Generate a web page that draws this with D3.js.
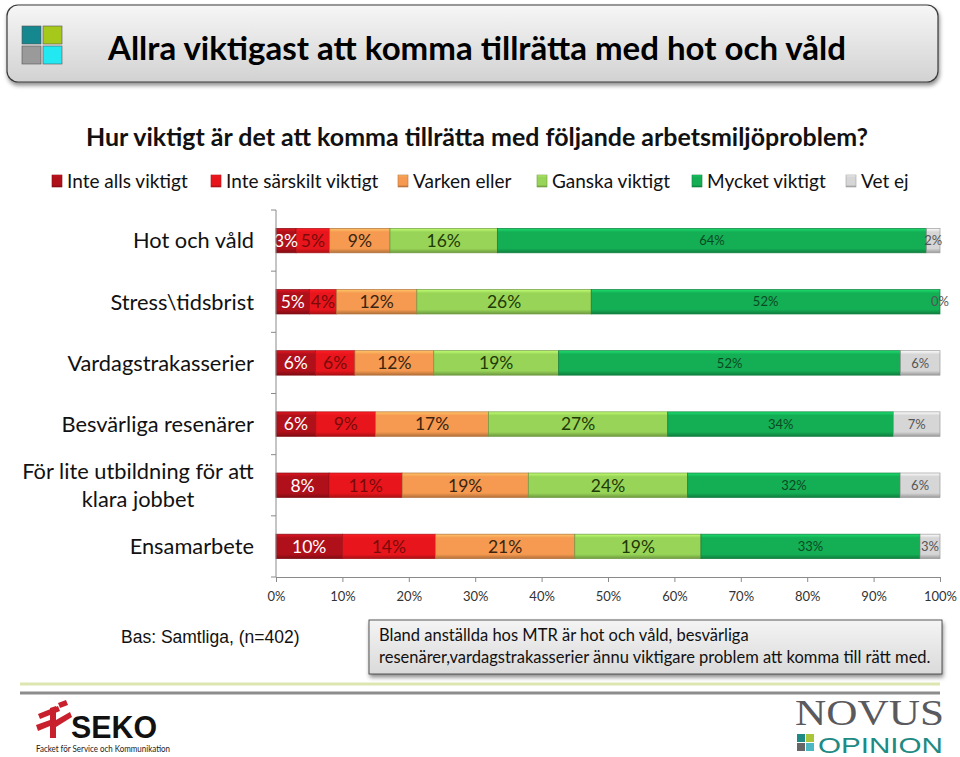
<!DOCTYPE html>
<html>
<head>
<meta charset="utf-8">
<script src="https://cdn.jsdelivr.net/npm/d3@7/dist/d3.min.js"></script>
<style>
  html, body { margin: 0; padding: 0; background: #fff; }
  svg { display: block; }
</style>
</head>
<body>
<svg id="chart" width="960" height="757"></svg>
<script>
// ---------- DATA ----------
const categories = [
  "Hot och våld",
  "Stress\\tidsbrist",
  "Vardagstrakasserier",
  "Besvärliga resenärer",
  "För lite utbildning för att|klara jobbet",
  "Ensamarbete"
];
const seriesNames = ["Inte alls viktigt", "Inte särskilt viktigt", "Varken eller", "Ganska viktigt", "Mycket viktigt", "Vet ej"];
const inteAlls     = [3, 5, 6, 6, 8, 10];
const inteSarskilt = [5, 4, 6, 9, 11, 14];
const varkenEller  = [9, 12, 12, 17, 19, 21];
const ganska       = [16, 26, 19, 27, 24, 19];
const mycket       = [64, 52, 52, 34, 32, 33];
const vetEj        = [2, 0, 6, 7, 6, 3];
const tickLabels = ["0%","10%","20%","30%","40%","50%","60%","70%","80%","90%","100%"];
const tickValues = [0,0.1,0.2,0.3,0.4,0.5,0.6,0.7,0.8,0.9,1];

const titleText = "Allra viktigast att komma tillrätta med hot och våld";
const questionText = "Hur viktigt är det att komma tillrätta med följande arbetsmiljöproblem?";
const baseText = "Bas: Samtliga, (n=402)";
const noteLines = ["Bland anställda hos MTR är hot och våld, besvärliga", "resenärer,vardagstrakasserier ännu viktigare problem att komma till rätt med."];

// ---------- STYLE ----------
const colors = ["#B0101A", "#E8161C", "#F59A50", "#98D458", "#14AE55", "#D6D6D6"];
const labelColors = ["#ffffff", "#7A0A0A", "#3A2410", "#1E3A06", "#0A4A22", "#555555"];
const labelSizes = [17.5, 17.5, 17.5, 17.5, 13, 13];
const FONT = "Lato, 'Open Sans', sans-serif";

const svg = d3.select("#chart");
const defs = svg.append("defs");

// gradients for bevelled bars
colors.forEach((c, i) => {
  const g = defs.append("linearGradient").attr("id", "g" + i).attr("x1", 0).attr("y1", 0).attr("x2", 0).attr("y2", 1);
  const base = d3.color(c);
  g.append("stop").attr("offset", "0%").attr("stop-color", d3.color(c).brighter(0.7));
  g.append("stop").attr("offset", "15%").attr("stop-color", base);
  g.append("stop").attr("offset", "82%").attr("stop-color", base);
  g.append("stop").attr("offset", "100%").attr("stop-color", d3.color(c).darker(0.9));
});
// title box gradient
const tg = defs.append("linearGradient").attr("id", "titleGrad").attr("x1", 0).attr("y1", 0).attr("x2", 0).attr("y2", 1);
tg.append("stop").attr("offset", "0%").attr("stop-color", "#F6F6F6");
tg.append("stop").attr("offset", "100%").attr("stop-color", "#D2D2D2");
const ng = defs.append("linearGradient").attr("id", "noteGrad").attr("x1", 0).attr("y1", 0).attr("x2", 0).attr("y2", 1);
ng.append("stop").attr("offset", "0%").attr("stop-color", "#F4F4F4");
ng.append("stop").attr("offset", "100%").attr("stop-color", "#DADADA");
const sh = defs.append("filter").attr("id", "shadow").attr("x", "-5%").attr("y", "-20%").attr("width", "110%").attr("height", "150%");
sh.append("feDropShadow").attr("dx", 1).attr("dy", 3).attr("stdDeviation", 2).attr("flood-color", "#000").attr("flood-opacity", 0.45);

// ---------- TITLE BOX ----------
svg.append("rect").attr("x", 7).attr("y", 5).attr("width", 931).attr("height", 77)
  .attr("rx", 11).attr("fill", "url(#titleGrad)").attr("stroke", "#3a3a3a").attr("stroke-width", 1.2)
  .attr("filter", "url(#shadow)");
const icon = [
  {x: 22, y: 26, c: "#15878E"}, {x: 43, y: 26, c: "#A6C81A"},
  {x: 22, y: 46, c: "#9A9A9A"}, {x: 43, y: 46, c: "#22E8F2"}
];
svg.selectAll(".icon").data(icon).join("rect")
  .attr("x", d => d.x).attr("y", d => d.y).attr("width", 19).attr("height", 18)
  .attr("fill", d => d.c).attr("stroke", "#555").attr("stroke-width", 0.6);
svg.append("text").attr("x", 108).attr("y", 60).text(titleText)
  .attr("font-family", FONT).attr("font-weight", "bold").attr("font-size", 33).attr("fill", "#000")
  .attr("textLength", 738).attr("lengthAdjust", "spacingAndGlyphs");

// ---------- QUESTION ----------
svg.append("text").attr("x", 86).attr("y", 146).text(questionText)
  .attr("font-family", FONT).attr("font-weight", "bold").attr("font-size", 24).attr("fill", "#111")
  .attr("textLength", 782).attr("lengthAdjust", "spacingAndGlyphs");

// ---------- LEGEND ----------
const legendX = [52, 211, 398, 537, 692, 846];
const legend = svg.append("g");
seriesNames.forEach((s, i) => {
  legend.append("rect").attr("x", legendX[i]).attr("y", 175).attr("width", 10).attr("height", 12)
    .attr("fill", "url(#g" + i + ")").attr("stroke", d3.color(colors[i]).darker(0.8)).attr("stroke-width", 0.6);
  legend.append("text").attr("x", legendX[i] + 15).attr("y", 188).text(s)
    .attr("font-family", FONT).attr("font-size", 19).attr("fill", "#111");
});

// ---------- SCALES ----------
const x = d3.scaleLinear().domain([0, 1]).range([276, 940]);
const y = d3.scaleBand().domain(categories).range([210, 577]).paddingInner(0.6).paddingOuter(0.3);

const rows = categories.map((c, i) => ({
  cat: c,
  s0: inteAlls[i], s1: inteSarskilt[i], s2: varkenEller[i], s3: ganska[i], s4: mycket[i], s5: vetEj[i]
}));
const keys = ["s0","s1","s2","s3","s4","s5"];
const stacked = d3.stack().keys(keys).offset(d3.stackOffsetExpand)(rows);

// ---------- BARS ----------
const barG = svg.append("g");
stacked.forEach((layer, li) => {
  const g = barG.append("g");
  g.selectAll("rect").data(layer).join("rect")
    .attr("x", d => x(d[0]))
    .attr("y", d => y(d.data.cat))
    .attr("width", d => Math.max(0, x(d[1]) - x(d[0])))
    .attr("height", y.bandwidth())
    .attr("fill", "url(#g" + li + ")")
    .attr("stroke", d3.color(colors[li]).darker(0.9))
    .attr("stroke-width", 0.7);
});
stacked.forEach((layer, li) => {
  barG.append("g").selectAll("text").data(layer).join("text")
    .attr("x", d => (x(d[0]) + x(d[1])) / 2)
    .attr("y", d => y(d.data.cat) + y.bandwidth() / 2)
    .attr("dy", "0.36em")
    .attr("text-anchor", "middle")
    .attr("font-family", FONT)
    .attr("font-size", labelSizes[li])
    .attr("fill", labelColors[li])
    .text(d => d.data[layer.key] + "%");
});

// ---------- AXES ----------
const xAxis = d3.axisBottom(x).tickValues(tickValues).tickFormat((d, i) => tickLabels[i]).tickSizeOuter(0).tickSize(5);
const xa = svg.append("g").attr("transform", "translate(0,577)").call(xAxis);
xa.select(".domain").attr("stroke", "#8a8a8a");
xa.selectAll(".tick line").attr("stroke", "#8a8a8a");
xa.selectAll(".tick text").attr("font-family", FONT).attr("font-size", 13).attr("fill", "#333").attr("dy", "1.2em");

// y axis line and boundary ticks
const yAxisG = svg.append("g");
yAxisG.append("line").attr("x1", 276).attr("x2", 276).attr("y1", 210).attr("y2", 577).attr("stroke", "#8a8a8a");
const step = y.step();
const bounds = categories.map(c => y(c) - (step - y.bandwidth()) / 2).concat([577]);
yAxisG.selectAll(".yt").data(bounds).join("line")
  .attr("x1", 271).attr("x2", 276).attr("y1", d => d).attr("y2", d => d).attr("stroke", "#8a8a8a");

// category labels
categories.forEach(c => {
  const lines = c.split("|");
  const cy = y(c) + y.bandwidth() / 2;
  if (lines.length === 1) {
    yAxisG.append("text").attr("x", 254).attr("y", cy).attr("dy", "0.36em")
      .attr("text-anchor", "end").attr("font-family", FONT).attr("font-size", 21.8).attr("fill", "#111").text(lines[0]);
  } else {
    lines.forEach((l, k) => {
      yAxisG.append("text").attr("x", 138).attr("y", cy - 14 + k * 28).attr("dy", "0.36em")
        .attr("text-anchor", "middle").attr("font-family", FONT).attr("font-size", 21.8).attr("fill", "#111").text(l);
    });
  }
});

// ---------- FOOTNOTES ----------
svg.append("text").attr("x", 121).attr("y", 643).text(baseText)
  .attr("font-family", "'Liberation Sans', Arial, sans-serif").attr("font-size", 17.5).attr("fill", "#111");

svg.append("rect").attr("x", 369).attr("y", 620).attr("width", 573).attr("height", 54)
  .attr("fill", "url(#noteGrad)").attr("stroke", "#333").attr("stroke-width", 0.8).attr("filter", "url(#shadow)");
noteLines.forEach((l, k) => {
  svg.append("text").attr("x", 379).attr("y", 641 + k * 22).text(l)
    .attr("font-family", FONT).attr("font-size", 16.5).attr("fill", "#111");
});

// separator lines
svg.append("line").attr("x1", 20).attr("x2", 940).attr("y1", 684).attr("y2", 684).attr("stroke", "#DDE6B0").attr("stroke-width", 3);
svg.append("line").attr("x1", 20).attr("x2", 940).attr("y1", 693).attr("y2", 693).attr("stroke", "#8C8C8C").attr("stroke-width", 3);

// ---------- LOGOS ----------
// SEKO
const seko = svg.append("g");
seko.append("path").attr("d", "M38,714 L58,706 L60,711 L40,719 Z").attr("fill", "#C8202C");
seko.append("path").attr("d", "M50,708 L56,706 L56,738 L50,738 Z").attr("fill", "#C8202C");
seko.append("path").attr("d", "M36,725 L50,720 L50,726 L38,731 Z").attr("fill", "#C8202C");
seko.append("path").attr("d", "M56,720 L70,712 L72,717 L56,727 Z").attr("fill", "#C8202C");
seko.append("path").attr("d", "M58,703 L66,700 L68,705 L60,708 Z").attr("fill", "#C8202C");
seko.append("text").attr("x", 71).attr("y", 738).text("SEKO")
  .attr("font-family", "'Liberation Sans', Arial, sans-serif").attr("font-weight", "bold").attr("font-size", 31).attr("fill", "#111")
  .attr("textLength", 86).attr("lengthAdjust", "spacingAndGlyphs");
seko.append("text").attr("x", 36).attr("y", 752).text("Facket för Service och Kommunikation")
  .attr("font-family", FONT).attr("font-size", 8.5).attr("fill", "#222")
  .attr("textLength", 134).attr("lengthAdjust", "spacingAndGlyphs");

// NOVUS
const novus = svg.append("g");
novus.append("text").attr("x", 795).attr("y", 725).text("NOVUS")
  .attr("font-family", "'Liberation Serif', 'DejaVu Serif', serif").attr("font-size", 36).attr("fill", "#5A5A5E")
  .attr("textLength", 149).attr("lengthAdjust", "spacingAndGlyphs");
const nsq = [
  {x: 797, y: 734, c: "#1E8A84"}, {x: 806, y: 734, c: "#A9C63A"},
  {x: 797, y: 743, c: "#666"}, {x: 806, y: 743, c: "#4CB8C4"}
];
novus.selectAll(".nsq").data(nsq).join("rect")
  .attr("x", d => d.x).attr("y", d => d.y).attr("width", 8).attr("height", 8).attr("fill", d => d.c);
novus.append("text").attr("x", 818).attr("y", 753).text("OPINION")
  .attr("font-family", "'Liberation Sans', Arial, sans-serif").attr("font-size", 22).attr("fill", "#1E8A84")
  .attr("textLength", 125).attr("lengthAdjust", "spacingAndGlyphs");
</script>
</body>
</html>
